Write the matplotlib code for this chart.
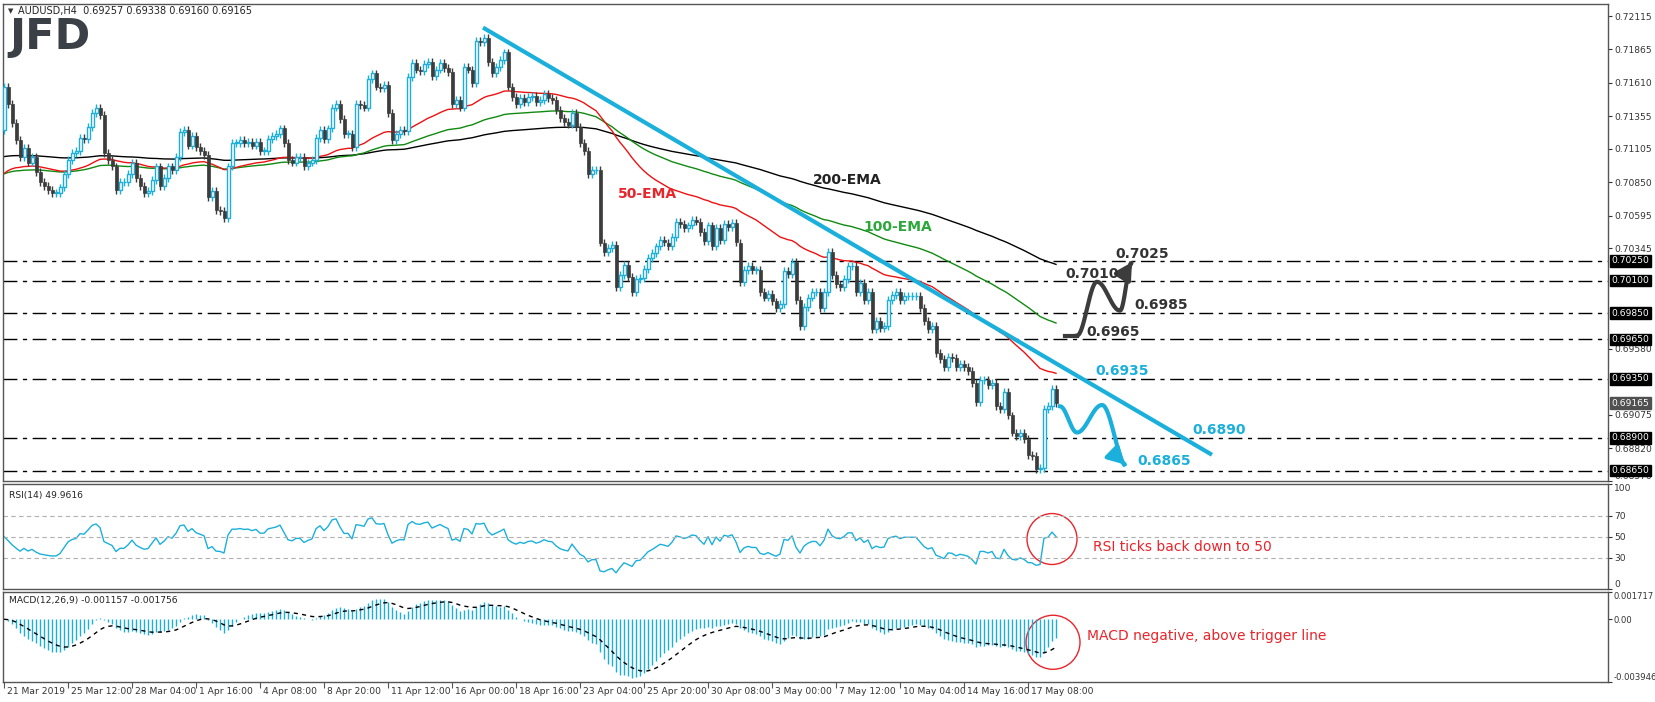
import numpy as np
import matplotlib
matplotlib.use("Agg")
import matplotlib.pyplot as plt
from matplotlib.patches import Ellipse
from matplotlib import transforms

# ---------------- data ----------------
closes = [
 .7158,.7145,.7130,.7117,.7104,.7111,.7100,.7104,.7093,.7085,.7082,.7079,.7077,.7077,.7081,.7091,.7102,.7107,.7109,.7119,
 .7118,.7127,.7138,.7142,.7136,.7107,.7102,.7097,.7079,.7085,.7085,.7091,.7100,.7088,.7082,.7077,.7078,.7087,.7097,.7082,
 .7088,.7097,.7094,.7104,.7123,.7125,.7113,.7120,.7112,.7109,.7106,.7074,.7078,.7064,.7063,.7058,.7097,.7115,.7115,.7117,
 .7115,.7116,.7113,.7116,.7109,
 .7109,.7118,.7120,.7122,.7126,.7115,.7102,.7100,.7104,.7104,.7097,.7100,.7102,.7119,.7125,.7118,.7126,.7142,
 .7145,.7133,.7122,.7122,.7112,.7145,.7144,.7142,.7164,.7168,.7158,.7157,.7159,.7138,.7117,.7122,.7125,.7124,.7165,
 .7176,.7171,.7170,.7175,.7177,.7166,.7171,.7176,.7172,.7169,.7145,.7148,.7142,.7173,.7171,.7161,.7193,.7192,.7195,.7177,
 .7168,.7173,.7178,.7184,.7158,.7150,.7145,.7149,.7146,.7150,.7151,.7146,.7148,.7152,.7149,
 .7148,.7140,.7134,.7131,.7129,.7138,.7127,.7115,.7109,.7091,.7094,.7094,.7039,.7032,.7035,.7037,.7005,.7014,.7022,.7013,
 .7001,.7011,.7012,.7019,.7027,.7031,.7036,.7041,.7039,.7036,.7043,.7055,.7053,.7050,.7052,.7056,.7055,.7047,.7040,
 .7052,.7036,.7050,.7041,.7053,.7051,.7054,.7039,.7009,.7018,.7021,.7018,.7018,.7001,.6997,.7000,.6994,.6989,.6992,.7017,
 .7015,.7024,
 .6995,.6975,.6990,.6997,.7001,.7001,.6989,.7001,.7032,.7014,.7007,.7005,.7011,.7021,.7021,.7001,.7008,.6995,.7001,
 .6973,.6979,.6974,.6975,.6995,.6999,.7001,.6995,.6998,.6998,.6998,.6998,.6989,.6979,.6973,.6975,.6955,
 .6950,.6944,.6952,.6951,.6944,.6946,.6944,.6941,.6932,.6917,.6934,.6934,
 .6930,.6932,.6914,.6912,.6925,.6907,.6894,.6891,.6894,.6889,.6877,.6876,.6866,.6867,.6912,.6914,.6927,.69165]
first_open = 0.7125
wick = 0.0003
ema_seeds = {50: 0.7089, 100: 0.7090, 200: 0.7104}
rsi_seed_avg = 0.0006

levels = [0.7025, 0.7010, 0.6985, 0.6965, 0.6935, 0.6890, 0.6865]
box_labels = ["0.70250", "0.70100", "0.69850", "0.69650", "0.69350", "0.68900", "0.68650"]
price_ticks = [0.72115, 0.71865, 0.71610, 0.71355, 0.71105, 0.70850, 0.70595, 0.70345, 0.69580, 0.69075, 0.68820, 0.68570]
last_price = 0.69165
date_labels = ['21 Mar 2019','25 Mar 12:00','28 Mar 04:00','1 Apr 16:00','4 Apr 08:00','8 Apr 20:00','11 Apr 12:00',
               '16 Apr 00:00','18 Apr 16:00','23 Apr 04:00','25 Apr 20:00','30 Apr 08:00','3 May 00:00','7 May 12:00',
               '10 May 04:00','14 May 16:00','17 May 08:00']
trend_pts = ([119.75, 302.0], [0.7203, 0.6877])
bull_path = [(265.25,0.6968),(268.25,0.6968),(273.25,0.7009),(279.0,0.6987),(282.0,0.7024)]
bear_path = [(264.0,0.6914),(268.25,0.6894),(274.5,0.6915),(280.75,0.6868)]

# ---------------- computations ----------------
c = np.array(closes)
n = len(c)
o = np.concatenate([[first_open], c[:-1]])
hi = np.maximum(o, c) + wick
lo = np.minimum(o, c) - wick
idx = np.arange(n)

def ema(x, span, seed):
    a = 2.0/(span+1); out = np.empty(len(x)); v = seed
    for i, xv in enumerate(x):
        v = v + a*(xv - v); out[i] = v
    return out

e50 = ema(c, 50, ema_seeds[50]); e100 = ema(c, 100, ema_seeds[100]); e200 = ema(c, 200, ema_seeds[200])

d = np.diff(c, prepend=c[0])
g = np.clip(d, 0, None); l = np.clip(-d, 0, None)
ag = np.empty(n); al = np.empty(n)
ag[0] = rsi_seed_avg; al[0] = rsi_seed_avg
for i in range(1, n):
    ag[i] = (ag[i-1]*13 + g[i])/14; al[i] = (al[i-1]*13 + l[i])/14
rsi = 100 - 100/(1 + ag/np.maximum(al, 1e-9))

macd = ema(c, 12, c[0]) - ema(c, 26, c[0])
sig = ema(macd, 9, 0.0)

# ---------------- figure ----------------
W, H = 1655, 702
FS = 6.6
fig = plt.figure(figsize=(W/100, H/100), dpi=100)
def ax_at(l, t, r, b):
    return fig.add_axes([l/W, 1-b/H, (r-l)/W, (b-t)/H])
ax = ax_at(3, 4, 1608, 481)
axr = ax_at(3, 484, 1608, 589)
axm = ax_at(3, 592, 1608, 682)

XL = (-0.25, 401)
CY = '#1bb0dc'; DK = '#3c3c3c'
for a in (ax, axr, axm):
    a.set_xlim(*XL)
    for s in a.spines.values():
        s.set_color('#555555'); s.set_linewidth(1)
    a.tick_params(axis='x', bottom=False, labelbottom=False)
    a.yaxis.tick_right()
    a.tick_params(axis='y', labelsize=FS, colors='#333333', length=3, width=0.8, pad=1.5)

ax.set_ylim(0.68575, 0.72210)
bull = c >= o
ax.vlines(idx[bull], lo[bull], hi[bull], color=CY, lw=1, zorder=3)
ax.vlines(idx[~bull], lo[~bull], hi[~bull], color=DK, lw=1, zorder=3)
hb = np.where(np.abs(c-o) < 0.00004, 0.00004, c-o)
ax.bar(idx[bull], hb[bull], bottom=o[bull], width=0.75, facecolor='white', edgecolor=CY, lw=1, zorder=4)
ax.bar(idx[~bull], hb[~bull], bottom=o[~bull], width=0.75, facecolor=DK, edgecolor=DK, lw=0.5, zorder=4)

ax.plot(idx, e200, color='black', lw=1, zorder=2)
ax.plot(idx, e100, color='#108a10', lw=1, zorder=2)
ax.plot(idx, e50, color='#ee1111', lw=1, zorder=2)

for lv in levels:
    ax.axhline(lv, color='black', lw=1, ls=(0, (10, 4, 3, 4)), zorder=1)
ax.plot(trend_pts[0], trend_pts[1], color=CY, lw=3, solid_capstyle='butt', zorder=5)

ax.set_yticks(price_ticks)
ax.set_yticklabels([f"{p:.5f}" for p in price_ticks])
ax.get_yticklabels()[-1].set_verticalalignment('bottom')
tr = transforms.blended_transform_factory(ax.transAxes, ax.transData)
for lv, lab in zip(levels, box_labels):
    ax.text(1.0022, lv, lab, transform=tr, fontsize=FS, color='white', va='center', ha='left',
            bbox=dict(boxstyle='square,pad=0.15', fc='black', ec='black'), clip_on=False, zorder=10)
ax.text(1.0022, last_price, f"{last_price:.5f}", transform=tr, fontsize=FS, color='white', va='center', ha='left',
        bbox=dict(boxstyle='square,pad=0.15', fc='#505050', ec='#505050'), clip_on=False, zorder=10)

fig.text(8/W, 1-11/H, "▼", fontsize=5, color='#333333', va='center')
fig.text(18/W, 1-11/H, "AUDUSD,H4  0.69257 0.69338 0.69160 0.69165", fontsize=7, color='#222222', va='center')
fig.text(9/W, 1-37/H, "JFD", fontsize=31, fontweight='bold', color='#3b4047', va='center', family='DejaVu Sans')

ax.text(202.25, 0.7087, "200-EMA", fontsize=10, fontweight='bold', color='#222222', va='center')
ax.text(214.75, 0.7051, "100-EMA", fontsize=10, fontweight='bold', color='#2ca83a', va='center')
ax.text(153.5, 0.7076, "50-EMA", fontsize=10, fontweight='bold', color='#e8252b', va='center')

def smooth(pts):
    pts = np.array(pts); tt = np.linspace(0, 1, 200)
    xs = np.interp(tt, np.linspace(0, 1, len(pts)), pts[:, 0])
    seg = np.minimum((tt*(len(pts)-1)).astype(int), len(pts)-2)
    f = tt*(len(pts)-1) - seg
    f = (1-np.cos(np.pi*f))/2
    ys = pts[seg, 1]*(1-f) + pts[seg+1, 1]*f
    return xs, ys
bx, by = smooth(bull_path[1:])
ax.plot([bull_path[0][0], bull_path[1][0]], [bull_path[0][1], bull_path[1][1]], color=DK, lw=3, zorder=6)
ax.plot(bx[:-8], by[:-8], color=DK, lw=3, zorder=6)
ax.annotate("", xy=(bx[-1], by[-1]), xytext=(bx[-12], by[-12]),
            arrowprops=dict(arrowstyle='-|>,head_width=0.55,head_length=1.0', color=DK, lw=3), zorder=7)
cx, cy = smooth(bear_path)
ax.plot(cx[:-8], cy[:-8], color=CY, lw=3, zorder=6)
ax.annotate("", xy=(cx[-1], cy[-1]), xytext=(cx[-12], cy[-12]),
            arrowprops=dict(arrowstyle='-|>,head_width=0.55,head_length=1.0', color=CY, lw=3), zorder=7)

for x0, y0, s, col in [(277.75, 0.7030, "0.7025", '#333333'), (265.25, 0.7015, "0.7010", '#333333'),
                       (282.5, 0.6991, "0.6985", '#333333'), (270.5, 0.6971, "0.6965", '#333333'),
                       (272.75, 0.6941, "0.6935", CY), (297.0, 0.6896, "0.6890", CY),
                       (283.25, 0.6872, "0.6865", CY)]:
    ax.text(x0, y0, s, fontsize=10, fontweight='bold', color=col, va='center', ha='left', zorder=8)

# RSI
axr.set_ylim(0, 100)
axr.plot(idx, rsi, color=CY, lw=1)
for lv in (30, 50, 70):
    axr.axhline(lv, color='#b0b0b0', lw=0.8, ls=(0, (4, 3)))
axr.set_yticks([0, 30, 50, 70, 100])
axr.set_yticklabels(['0', '30', '50', '70', '100'])
rl = axr.get_yticklabels()
rl[0].set_verticalalignment('bottom'); rl[-1].set_verticalalignment('top')
axr.text(0.004, 0.93, f"RSI(14) {rsi[-1]:.4f}", transform=axr.transAxes, fontsize=FS, color='#222222', va='top')
axr.add_patch(Ellipse((262, 47.6), 12.5, 48.5, fill=False, ec='#e8252b', lw=1))
axr.text(272.25, 39.8, "RSI ticks back down to 50", fontsize=10, color='#e8252b', va='center')

# MACD
axm.set_ylim(-0.003946, 0.001717)
axm.vlines(idx, 0, macd, color=CY, lw=1)
axm.plot(idx, sig, color='black', lw=1, ls=(0, (3, 3)))
axm.set_yticks([0.001717, 0.0, -0.003946])
axm.set_yticklabels(['0.001717', '0.00', '-0.003946'])
axm.tick_params(axis='y', labelsize=6.1, pad=1)
ml = axm.get_yticklabels()
ml[0].set_verticalalignment('top'); ml[-1].set_verticalalignment('bottom')
axm.text(0.004, 0.95, f"MACD(12,26,9) {macd[-1]:.6f} {sig[-1]:.6f}", transform=axm.transAxes, fontsize=FS,
         color='#222222', va='top')
axm.add_patch(Ellipse((262.25, -0.001447), 13.5, 0.0034, fill=False, ec='#e8252b', lw=1))
axm.text(270.75, -0.00107, "MACD negative, above trigger line", fontsize=10, color='#e8252b', va='center')

tpos = np.arange(len(date_labels))*16
axm.set_xticks(tpos)
axm.tick_params(axis='x', bottom=True, length=4, width=0.8, color='#555555', labelbottom=False)
trd = transforms.blended_transform_factory(axm.transData, fig.transFigure)
for p, lab in zip(tpos, date_labels):
    axm.text(p + 0.8, 1-692/H, lab, transform=trd, fontsize=FS, color='#333333', va='center', ha='left',
             clip_on=False)

fig.savefig("out.png", dpi=100)
